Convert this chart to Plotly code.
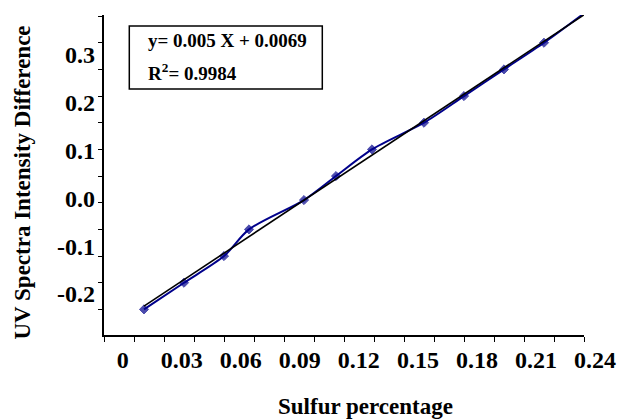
import numpy as np
import plotly.graph_objects as go

# ---- data ----
sulfur_pct = [0.02, 0.04, 0.06, 0.0725, 0.10, 0.116, 0.134, 0.16, 0.18, 0.20, 0.22, 0.24]
uv_diff = [-0.20, -0.15, -0.10, -0.05, 0.005, 0.05, 0.10, 0.15, 0.20, 0.25, 0.30, 0.355]
marker_shown = [True] * 11 + [False]

x_tick_labels = [0, 0.03, 0.06, 0.09, 0.12, 0.15, 0.18, 0.21, 0.24]
y_tick_labels = [-0.2, -0.1, 0.0, 0.1, 0.2, 0.3]

eq_text = "y= 0.005 X + 0.0069"
r2_text = "R<sup>2</sup>= 0.9984"
x_title = "Sulfur percentage"
y_title = "UV Spectra Intensity Difference"

# regression from the measured points
fit_x = np.array(sulfur_pct[:11])
fit_y = np.array(uv_diff[:11])
slope, intercept = np.polyfit(fit_x, fit_y, 1)
trend_x = [fit_x.min(), 0.24]
trend_y = [slope * v + intercept for v in trend_x]

FONT = "Liberation Serif"
NAVY = "#00008B"

W, H = 618, 419
ML, MR, MT, MB = 104, 34, 15, 84
PW = W - ML - MR
PH = H - MT - MB


def px_to_paper_x(px):
    return (px - ML) / PW


def px_to_paper_y(py):
    return (H - MB - py) / PH


fig = go.Figure()

fig.add_trace(go.Scatter(
    x=sulfur_pct, y=uv_diff, mode="lines+markers",
    line=dict(color=NAVY, width=2, shape="spline", smoothing=0.8),
    marker=dict(symbol="diamond", color=NAVY,
                size=[7 if s else 0 for s in marker_shown],
                line=dict(color=NAVY, width=1)),
    xaxis="x", yaxis="y", showlegend=False, cliponaxis=False,
))
fig.add_trace(go.Scatter(
    x=trend_x, y=trend_y, mode="lines",
    line=dict(color="black", width=1.6),
    xaxis="x", yaxis="y", showlegend=False,
))
# invisible trace so the label-only axes get drawn
fig.add_trace(go.Scatter(
    x=x_tick_labels[:1], y=y_tick_labels[:1], mode="markers",
    marker=dict(opacity=0), xaxis="x2", yaxis="y2",
    showlegend=False, hoverinfo="skip",
))

# label-only axes (labels in the reference are offset from the tick marks)
X_SHIFT = 12
lab_px_per_unit_x = 1968.0
lab_zero_px_x = 122.7 - X_SHIFT
lab_px_per_unit_y = 478.0
lab_zero_px_y = 198.4

x2_range = [(ML - lab_zero_px_x) / lab_px_per_unit_x,
            (ML + PW - lab_zero_px_x) / lab_px_per_unit_x]
y2_range = [(lab_zero_px_y - (H - MB)) / lab_px_per_unit_y,
            (lab_zero_px_y - MT) / lab_px_per_unit_y]

tick_font = dict(family=FONT, size=24, color="black", weight="bold")

fig.update_layout(
    width=W, height=H,
    margin=dict(l=ML, r=MR, t=MT, b=MB, autoexpand=False),
    plot_bgcolor="white", paper_bgcolor="white",
    xaxis=dict(
        range=[0, 0.24], tick0=0, dtick=0.015,
        ticks="outside", ticklen=5, tickwidth=1.3, tickcolor="black",
        showline=True, linecolor="black", linewidth=1.5,
        showgrid=False, zeroline=False, showticklabels=False,
    ),
    xaxis2=dict(
        overlaying="x", anchor="y2", side="bottom",
        range=x2_range, tickmode="array",
        tickvals=x_tick_labels, ticktext=[f"{v:g}" for v in x_tick_labels],
        ticks="", showline=False, showgrid=False, zeroline=False,
        tickfont=tick_font, ticklabelstandoff=8, ticklabelshift=X_SHIFT,
    ),
    yaxis=dict(
        range=[-0.248, 0.352], tick0=0, dtick=0.05,
        ticks="outside", ticklen=4, tickwidth=1.3, tickcolor="black",
        showline=True, linecolor="black", linewidth=1.5,
        showgrid=False, zeroline=False, showticklabels=False,
    ),
    yaxis2=dict(
        overlaying="y", anchor="x2", side="left",
        range=y2_range, tickmode="array",
        tickvals=y_tick_labels, ticktext=[f"{v:.1f}" for v in y_tick_labels],
        ticks="", showline=False, showgrid=False, zeroline=False,
        tickfont=tick_font, ticklabelstandoff=8,
    ),
)

# equation box
fig.add_shape(type="rect", xref="paper", yref="paper",
              x0=px_to_paper_x(129.3), x1=px_to_paper_x(322.3),
              y0=px_to_paper_y(89), y1=px_to_paper_y(26),
              line=dict(color="black", width=1.5), fillcolor="white", layer="above")

ann_font = dict(family=FONT, size=19, color="black", weight="bold")
fig.add_annotation(text=eq_text, xref="paper", yref="paper",
                   x=px_to_paper_x(146), y=px_to_paper_y(40),
                   xanchor="left", yanchor="middle", showarrow=False, font=ann_font)
fig.add_annotation(text=r2_text, xref="paper", yref="paper",
                   x=px_to_paper_x(146), y=px_to_paper_y(72),
                   xanchor="left", yanchor="middle", showarrow=False, font=ann_font)

title_font = dict(family=FONT, size=23, color="black", weight="bold")
fig.add_annotation(text=x_title, xref="paper", yref="paper",
                   x=px_to_paper_x(365), y=px_to_paper_y(406),
                   xanchor="center", yanchor="middle", showarrow=False, font=title_font)
fig.add_annotation(text=y_title, xref="paper", yref="paper",
                   x=px_to_paper_x(22), y=px_to_paper_y(182.5), textangle=-90,
                   xanchor="center", yanchor="middle", showarrow=False, font=title_font)

fig.write_html("out.html")
